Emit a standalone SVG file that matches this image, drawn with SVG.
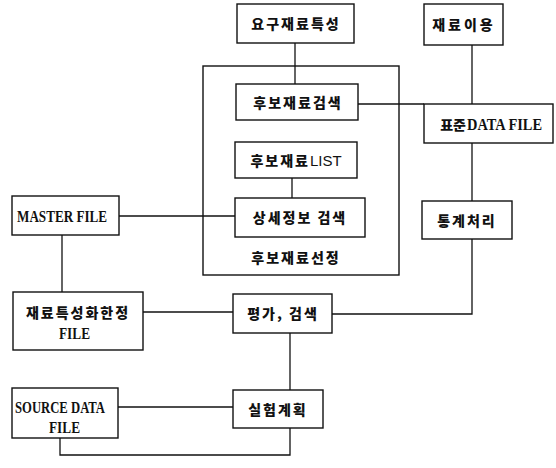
<svg xmlns="http://www.w3.org/2000/svg" width="556" height="468" viewBox="0 0 556 468">
<style>
rect{fill:#fff;stroke:#111;stroke-width:1.4}
.c{fill:none;stroke:#111;stroke-width:1.3}
text{font-family:"Liberation Serif","Noto Sans CJK KR",serif;font-weight:bold;font-size:16px;fill:#111;text-anchor:middle;dominant-baseline:central}
.l{text-anchor:start}
.k{font-family:"Noto Sans CJK KR",sans-serif;font-size:14px;font-weight:900;letter-spacing:2px}
</style>
<rect width="556" height="468" style="fill:#fff;stroke:none"/>
<g id="container"><rect x="203" y="66" width="196" height="209"/><text class="k" x="296" y="257">후보재료선정</text></g>
<g id="connectors">
<path class="c" d="M295 43V84"/>
<path class="c" d="M472 45V104"/>
<path class="c" d="M358 104H424"/>
<path class="c" d="M472 143V201"/>
<path class="c" d="M292 178V198"/>
<path class="c" d="M119 216H235"/>
<path class="c" d="M62 235V292"/>
<path class="c" d="M143 312H233"/>
<path class="c" d="M472 239V314H332"/>
<path class="c" d="M290 333V390"/>
<path class="c" d="M118 407H233"/>
<path class="c" d="M60 438V455H290V428"/>
</g>
<g id="n1"><rect x="237" y="4" width="117" height="39"/><text class="k" x="296" y="23">요구재료특성</text></g>
<g id="n2"><rect x="424" y="4" width="79" height="41"/><text class="k" x="464" y="24" style="letter-spacing:3px">재료이용</text></g>
<g id="n3"><rect x="236" y="84" width="122" height="36"/><text class="k" x="298" y="102">후보재료검색</text></g>
<g id="n4"><rect x="424" y="104" width="129" height="39"/><text class="k" x="466" y="124" style="text-anchor:end;letter-spacing:0">표준</text><text class="l" x="467" y="124" textLength="75" lengthAdjust="spacingAndGlyphs">DATA FILE</text></g>
<g id="n5"><rect x="235" y="142" width="122" height="36"/><text x="296" y="160"><tspan class="k">후보재료</tspan><tspan style="font-family:'Liberation Sans';font-weight:normal;font-size:15px">LIST</tspan></text></g>
<g id="n6"><rect x="235" y="198" width="130" height="39"/><text class="k" x="300" y="217">상세정보 검색</text></g>
<g id="n7"><rect x="422" y="201" width="90" height="38"/><text class="k" x="467" y="220">통계처리</text></g>
<g id="n8"><rect x="12" y="196" width="107" height="39"/><text class="l" x="17" y="216" textLength="90" lengthAdjust="spacingAndGlyphs">MASTER FILE</text></g>
<g id="n9"><rect x="13" y="292" width="130" height="58"/><text class="k" x="78" y="312">재료특성화한정</text><text class="l" x="59" y="333" textLength="31" lengthAdjust="spacingAndGlyphs">FILE</text></g>
<g id="n10"><rect x="233" y="294" width="99" height="39"/><text class="k" x="283" y="313">평가, 검색</text></g>
<g id="n11"><rect x="233" y="390" width="90" height="38"/><text class="k" x="278" y="409">실험계획</text></g>
<g id="n12"><rect x="12" y="388" width="106" height="50"/><text class="l" x="15" y="407" textLength="90" lengthAdjust="spacingAndGlyphs">SOURCE DATA</text><text class="l" x="49" y="427" textLength="31" lengthAdjust="spacingAndGlyphs">FILE</text></g>
</svg>
